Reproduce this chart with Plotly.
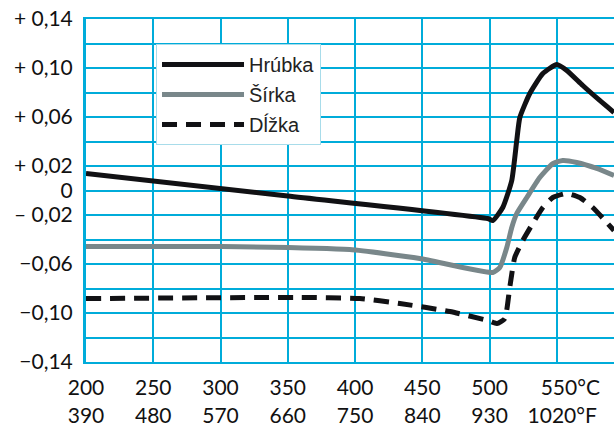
import plotly.graph_objects as go

# Temperature (°C) and relative dimension change (%)
hrubka_x = [200, 350, 498.7, 502.4, 509.8, 516.5, 520.2, 522.5, 529.9, 539.6, 550.0, 557.4, 569.3, 581.9, 592.5]
hrubka_y = [0.0139, -0.0045, -0.0229, -0.0245, -0.0139, 0.0082, 0.0408, 0.0596, 0.0792, 0.0955, 0.1029, 0.098, 0.0857, 0.0735, 0.0637]

sirka_x = [200, 301, 396, 448, 502.4, 507.6, 512.8, 516.5, 520.2, 527.7, 537.3, 547.0, 554.4, 564.8, 579.7, 592.5]
sirka_y = [-0.0457, -0.0457, -0.0482, -0.0555, -0.0669, -0.0629, -0.0465, -0.0302, -0.0188, -0.0057, 0.0106, 0.022, 0.0245, 0.0229, 0.018, 0.0122]

dlzka_x = [200, 359, 403.6, 433.3, 470.5, 498.7, 505.4, 511.3, 515.0, 518.7, 524.7, 532.1, 539.6, 547.0, 557.4, 567.1, 576.7, 587.1, 592.5]
dlzka_y = [-0.0882, -0.0873, -0.0882, -0.0922, -0.0988, -0.1061, -0.1086, -0.1045, -0.0792, -0.0547, -0.0408, -0.0269, -0.0139, -0.0057, -0.0024, -0.0057, -0.0139, -0.0261, -0.0327]

series_names = ["Hrúbka", "Šírka", "Dĺžka"]

x_tickvals = [200, 250, 300, 350, 400, 450, 500, 550]
x_ticktext = ["200<br>390", "250<br>480", "300<br>570", "350<br>660", "400<br>750",
              "450<br>840", "500<br>930",
              "\u00a0\u00a0\u00a0\u00a0\u00a0550°C<br>\u00a0\u00a01020°F"]

y_tickvals = [0.14, 0.12, 0.10, 0.08, 0.06, 0.04, 0.02, 0, -0.02, -0.04, -0.06, -0.08, -0.10, -0.12, -0.14]
y_ticktext = ["+ 0,14", "", "+ 0,10", "", "+ 0,06", "", "+ 0,02", "0", "– 0,02", "",
              "−0,06", "", "−0,10", "", "−0,14"]

GRID = "#00ACDA"

fig = go.Figure()
fig.add_trace(go.Scatter(x=hrubka_x, y=hrubka_y, name=series_names[0], mode="lines",
                         legendgroup="a",
                         line=dict(color="#111114", width=5, shape="spline", smoothing=0.5)))
fig.add_trace(go.Scatter(x=sirka_x, y=sirka_y, name=series_names[1], mode="lines",
                         legendgroup="b",
                         line=dict(color="#79878a", width=5, shape="spline", smoothing=0.5)))
fig.add_trace(go.Scatter(x=dlzka_x, y=dlzka_y, name=series_names[2], mode="lines",
                         legendgroup="c",
                         line=dict(color="#111114", width=5, shape="spline", smoothing=0.5,
                                   dash="15px,9px")))

fig.update_layout(
    width=614, height=425,
    margin=dict(l=86, r=0, t=19, b=63, autoexpand=False),
    paper_bgcolor="white", plot_bgcolor="white",
    font=dict(family="Lato, Liberation Sans, sans-serif", size=21, color="#111"),
    showlegend=True,
    legend=dict(x=0.1326, y=0.927, xanchor="left", yanchor="top",
                bgcolor="white", bordercolor="#a8dcea", borderwidth=1,
                font=dict(family="Liberation Sans, Arial, sans-serif", size=20, color="#222"),
                itemwidth=82, tracegroupgap=1, traceorder="grouped"),
)
fig.update_xaxes(range=[200, 592.5], tickmode="array", tickvals=x_tickvals, ticktext=x_ticktext,
                 showgrid=True, gridcolor=GRID, gridwidth=2, zeroline=False,
                 showline=True, linecolor=GRID, linewidth=2, mirror=True, automargin=False,
                 ticks="", ticklabelstandoff=6, fixedrange=True)
fig.update_yaxes(range=[-0.14, 0.14], tickmode="array", tickvals=y_tickvals, ticktext=y_ticktext,
                 showgrid=True, gridcolor=GRID, gridwidth=2, zeroline=False,
                 showline=True, linecolor=GRID, linewidth=3, automargin=False,
                 ticks="", ticklabelstandoff=6, fixedrange=True)

fig.write_html("out.html", config={"displayModeBar": False},
               post_script="document.body.style.margin='0';")
